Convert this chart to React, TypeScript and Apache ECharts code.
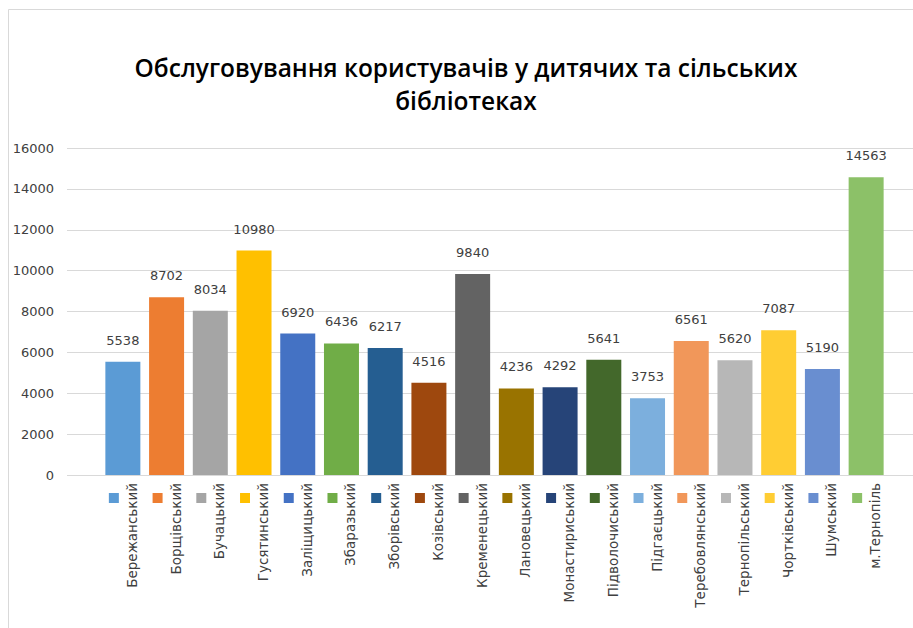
import React, { useEffect, useRef } from "react";
import * as echarts from "echarts";

const categories = [
  "Бережанський", "Борщівський", "Бучацький", "Гусятинський", "Заліщицький",
  "Збаразький", "Зборівський", "Козівський", "Кременецький", "Лановецький",
  "Монастириський", "Підволочиський", "Підгаєцький", "Теребовлянський",
  "Тернопільський", "Чортківський", "Шумський", "м.Тернопіль",
];
const values = [5538, 8702, 8034, 10980, 6920, 6436, 6217, 4516, 9840, 4236, 4292, 5641, 3753, 6561, 5620, 7087, 5190, 14563];
const colors = [
  "#5B9BD5", "#ED7D31", "#A5A5A5", "#FFC000", "#4472C4", "#70AD47", "#255E91", "#9E480E", "#636363",
  "#997300", "#264478", "#43682B", "#7CAFDD", "#F1975A", "#B7B7B7", "#FFCD33", "#698ED0", "#8CC168",
];
const yTicks = { min: 0, max: 16000, interval: 2000 };
const titleText = "Обслуговування користувачів у дитячих та сільських\nбібліотеках";

export default function App() {
  const ref = useRef<HTMLDivElement>(null);
  useEffect(() => {
    if (!ref.current) return;
    const chart = echarts.init(ref.current, null, { renderer: "svg" });
    const rich: Record<string, any> = {};
    colors.forEach((c, i) => {
      rich["s" + i] = { width: 10, height: 10, backgroundColor: c };
    });
    const font = "DejaVu Sans";
    chart.setOption({
      animation: false,
      backgroundColor: "#ffffff",
      title: {
        text: titleText,
        left: 466,
        textAlign: "center",
        top: 51,
        padding: 0,
        textStyle: {
          fontFamily: "Open Sans",
          fontWeight: 600,
          fontSize: 24.5,
          lineHeight: 33,
          color: "#000000",
        },
      },
      graphic: [
        {
          type: "rect",
          silent: true,
          shape: { x: 8.5, y: 9.5, width: 1000, height: 1000 },
          style: { fill: "none", stroke: "#d9d9d9", lineWidth: 1 },
        },
        {
          type: "text",
          x: 7,
          y: -17,
          style: { text: "№2", font: "bold 20px 'Liberation Sans'", fill: "#000" },
        },
      ],
      grid: [
        { left: 67, right: 0, top: 148, bottom: 153 },
        { left: 101, width: 787, top: 148, bottom: 153 },
      ],
      xAxis: [
        { gridIndex: 0, type: "category", data: [""], show: false },
        {
          gridIndex: 1,
          type: "category",
          data: categories,
          axisLine: { show: false },
          axisTick: { show: false },
          axisLabel: {
            interval: 0,
            rotate: 90,
            margin: 8,
            verticalAlign: "top",
            padding: [2, 0, 0, 0],
            fontFamily: font,
            fontSize: 13.5,
            color: "#404040",
          },
        },
        {
          gridIndex: 1,
          type: "category",
          data: categories,
          position: "bottom",
          axisLine: { show: false },
          axisTick: { show: false },
          axisLabel: {
            interval: 0,
            margin: 18,
            padding: [0, 18, 0, 0],
            formatter: (_v: string, idx: number) => `{s${idx}|}`,
            rich,
          },
        },
      ],
      yAxis: [
        {
          gridIndex: 0,
          type: "value",
          ...yTicks,
          axisLine: { show: false },
          axisTick: { show: false },
          splitLine: { lineStyle: { color: "#d9d9d9", width: 1 } },
          axisLabel: {
            margin: 13,
            fontFamily: font,
            fontSize: 13,
            color: "#404040",
            formatter: (v: number) => String(v),
          },
        },
        { gridIndex: 1, type: "value", ...yTicks, show: false, splitLine: { show: false } },
      ],
      series: [
        {
          type: "bar",
          xAxisIndex: 1,
          yAxisIndex: 1,
          barWidth: 35,
          data: values.map((v, i) => ({ value: v, itemStyle: { color: colors[i] } })),
          label: {
            show: true,
            position: "top",
            distance: 15,
            fontFamily: font,
            fontSize: 13,
            color: "#404040",
          },
        },
      ],
    });
    return () => chart.dispose();
  }, []);
  return (
    <div
      ref={ref}
      style={{ position: "absolute", left: 0, top: 0, width: 913, height: 628 }}
    />
  );
}
